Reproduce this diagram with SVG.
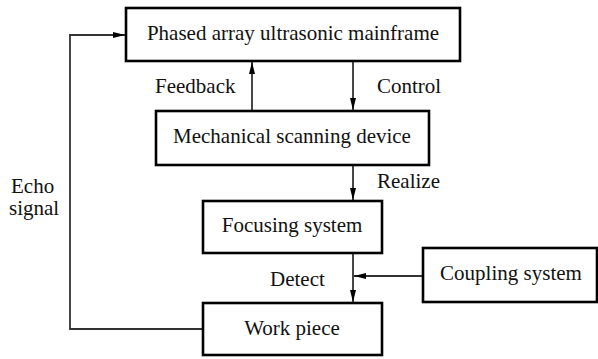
<svg xmlns="http://www.w3.org/2000/svg" width="598" height="359" viewBox="0 0 598 359">
<style>
.box{fill:#fff;stroke:#000;stroke-width:2.6}
.t{font-family:"Liberation Serif","Times New Roman",serif;font-size:21px;fill:#111}
.c{text-anchor:middle}
.ln{fill:none;stroke:#333;stroke-width:1.8}
</style>
<defs>
<marker id="ah" viewBox="0 0 12 8" refX="12" refY="4" markerWidth="12" markerHeight="8" markerUnits="userSpaceOnUse" orient="auto">
<path d="M0,1 L12,4 L0,7 Z" fill="#000"/>
</marker>
</defs>
<g id="connectors">
<path class="ln" d="M252,111 V62" marker-end="url(#ah)"/>
<path class="ln" d="M353,61 V110" marker-end="url(#ah)"/>
<path class="ln" d="M353,165 V200" marker-end="url(#ah)"/>
<path class="ln" d="M353,253 V302" marker-end="url(#ah)"/>
<path class="ln" d="M423,276 H354" marker-end="url(#ah)"/>
<path class="ln" d="M203,329 H70 V35 H125" marker-end="url(#ah)"/>
<text class="t" x="155" y="93">Feedback</text>
<text class="t" x="377" y="93">Control</text>
<text class="t" x="377" y="188">Realize</text>
<text class="t" x="270" y="286">Detect</text>
<text class="t" x="11" y="193">Echo</text>
<text class="t" x="9" y="215">signal</text>
</g>
<g id="mainframe"><rect class="box" x="126" y="8" width="334" height="53"/><text class="t c" x="293" y="40">Phased array ultrasonic mainframe</text></g>
<g id="mechanical"><rect class="box" x="156" y="111" width="273" height="54"/><text class="t c" x="292" y="143">Mechanical scanning device</text></g>
<g id="focusing"><rect class="box" x="203" y="201" width="179" height="52"/><text class="t c" x="292" y="232">Focusing system</text></g>
<g id="workpiece"><rect class="box" x="203" y="303" width="179" height="52"/><text class="t c" x="292" y="335">Work piece</text></g>
<g id="coupling"><rect class="box" x="423" y="248" width="174" height="54"/><text class="t c" x="511" y="280">Coupling system</text></g>
</svg>
